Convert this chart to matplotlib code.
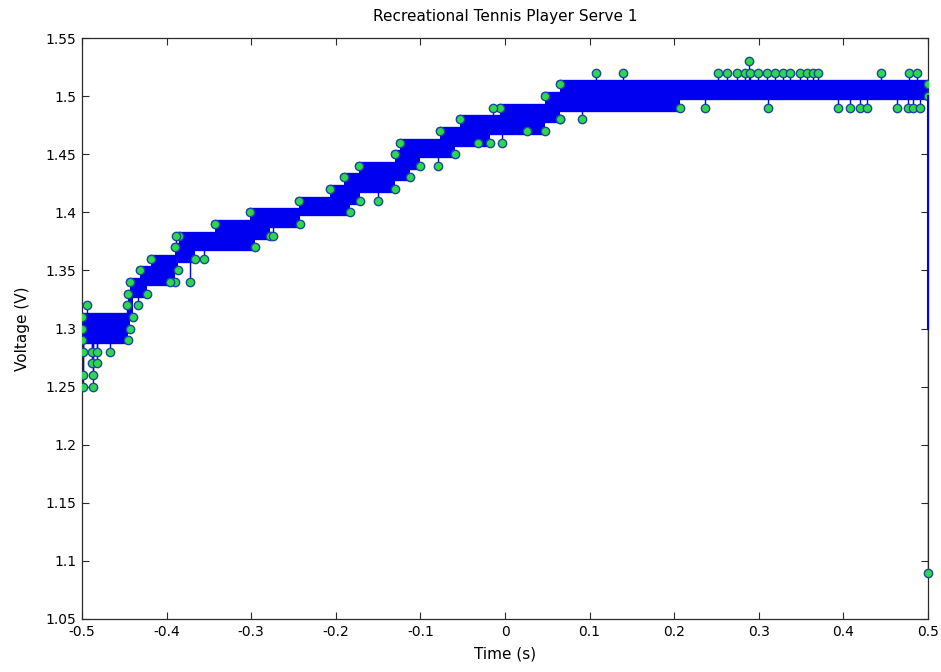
import matplotlib
matplotlib.use("Agg")
import matplotlib.pyplot as plt

# levels (V) the signal dithers on, with the time span (s) each one is occupied
row_level = [1.29, 1.30, 1.31, 1.33, 1.34, 1.35, 1.36, 1.37, 1.38, 1.39, 1.40,
             1.41, 1.42, 1.43, 1.44, 1.45, 1.46, 1.47, 1.48, 1.49, 1.50, 1.51]
row_start = [-0.500, -0.500, -0.500, -0.446, -0.443, -0.432, -0.418, -0.390, -0.385, -0.343, -0.301,
             -0.243, -0.207, -0.190, -0.172, -0.130, -0.124, -0.077, -0.053, -0.006, 0.047, 0.065]
row_end = [-0.446, -0.443, -0.440, -0.423, -0.390, -0.386, -0.366, -0.296, -0.278, -0.242, -0.183,
           -0.171, -0.130, -0.112, -0.100, -0.059, -0.018, 0.047, 0.065, 0.207, 0.500, 0.500]

# single samples off the occupied levels
pt_time = [-0.499, -0.487, -0.499, -0.487, -0.488, -0.482, -0.499, -0.488, -0.482, -0.467,
           -0.494, -0.447, -0.434, -0.396, -0.372, -0.356, -0.389, -0.274, -0.150,
           -0.079, -0.032, -0.004, 0.026, -0.014, 0.065, 0.091, 0.108, 0.140, 0.236,
           0.252, 0.262, 0.274, 0.284, 0.290, 0.299, 0.310, 0.319, 0.329, 0.337, 0.349,
           0.357, 0.364, 0.370, 0.288, 0.444, 0.478, 0.487,
           0.311, 0.394, 0.408, 0.420, 0.428, 0.463, 0.476, 0.482, 0.491]
pt_volt = [1.25, 1.25, 1.26, 1.26, 1.27, 1.27, 1.28, 1.28, 1.28, 1.28,
           1.32, 1.32, 1.32, 1.34, 1.34, 1.36, 1.38, 1.38, 1.41,
           1.44, 1.46, 1.46, 1.47, 1.49, 1.48, 1.48, 1.52, 1.52, 1.49,
           1.52, 1.52, 1.52, 1.52, 1.52, 1.52, 1.52, 1.52, 1.52, 1.52, 1.52,
           1.52, 1.52, 1.52, 1.53, 1.52, 1.52, 1.52,
           1.49, 1.49, 1.49, 1.49, 1.49, 1.49, 1.49, 1.49, 1.49]

# end of the record
tail_time = [0.5, 0.5]
tail_volt = [1.50, 1.30]
last_time = [0.5]
last_volt = [1.09]

x_ticks = [-0.5, -0.4, -0.3, -0.2, -0.1, 0.0, 0.1, 0.2, 0.3, 0.4, 0.5]
x_labels = ["-0.5", "-0.4", "-0.3", "-0.2", "-0.1", "0", "0.1", "0.2", "0.3", "0.4", "0.5"]
y_ticks = [1.05, 1.10, 1.15, 1.20, 1.25, 1.30, 1.35, 1.40, 1.45, 1.50, 1.55]
y_labels = ["1.05", "1.1", "1.15", "1.2", "1.25", "1.3", "1.35", "1.4", "1.45", "1.5", "1.55"]

LINE = "#0000f0"
FACE = "#2fd84a"
EDGE = "#1a4a9c"
AXC = "#2a2a2a"

plt.rcParams["font.family"] = ["DejaVu Sans"]
plt.rcParams["axes.unicode_minus"] = False

fig = plt.figure(figsize=(9.41, 6.72), dpi=100)
ax = fig.add_axes([82 / 941, 53 / 672, 846 / 941, 581 / 672])

# occupied levels: thick strokes, and the dither between neighbouring levels
for lv, s, e in zip(row_level, row_start, row_end):
    ax.plot([s, e], [lv, lv], color=LINE, lw=6, solid_capstyle="round", zorder=2)
for i in range(len(row_level) - 1):
    a = max(row_start[i], row_start[i + 1])
    b = min(row_end[i], row_end[i + 1])
    if b > a:
        ax.fill_between([a, b], row_level[i], row_level[i + 1], color=LINE, lw=0, zorder=2)

# stems from the lone samples back to the nearest occupied level
for t, v in zip(pt_time, pt_volt):
    act = [lv for lv, s, e in zip(row_level, row_start, row_end) if s <= t <= e]
    if act:
        near = min(act, key=lambda lv: abs(lv - v))
        ax.plot([t, t], [v, near], color=LINE, lw=1, zorder=2)

ax.plot(row_start + row_end, row_level + row_level, "o", ls="none", ms=6,
        mfc=FACE, mec=EDGE, mew=1, zorder=3)
ax.plot(pt_time, pt_volt, "o", ls="none", ms=6, mfc=FACE, mec=EDGE, mew=1, zorder=4)

ax.plot(tail_time, tail_volt, color=LINE, lw=1.5, clip_on=False, zorder=3)
ax.plot(tail_time[-1:] + last_time, tail_volt[-1:] + last_volt, color=LINE, lw=1, zorder=2)
ax.plot(last_time, last_volt, "o", ms=6, mfc=FACE, mec=EDGE, mew=1, clip_on=False, zorder=4)

ax.set_xlim(-0.5, 0.5)
ax.set_ylim(1.05, 1.55)
ax.set_xticks(x_ticks)
ax.set_xticklabels(x_labels)
ax.set_yticks(y_ticks)
ax.set_yticklabels(y_labels)
ax.tick_params(direction="in", top=True, right=True, length=5, width=0.8,
               labelsize=10, color=AXC, pad=4)
for sp in ax.spines.values():
    sp.set_color(AXC)
    sp.set_linewidth(0.9)

ax.set_title("Recreational Tennis Player Serve 1", fontsize=11, pad=12)
ax.set_xlabel("Time (s)", fontsize=11, labelpad=6)
ax.set_ylabel("Voltage (V)", fontsize=11, labelpad=11)

fig.savefig("out.png", dpi=100)
